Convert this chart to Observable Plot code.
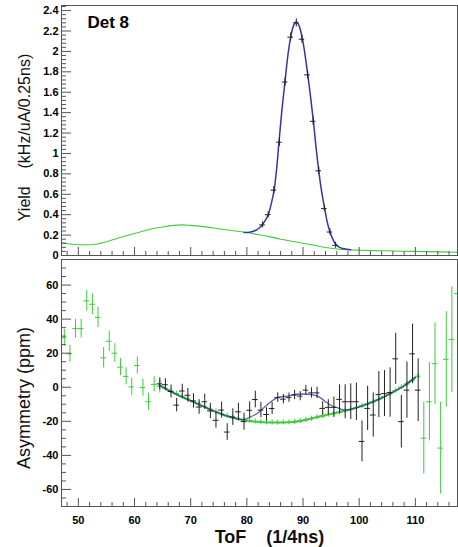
<!DOCTYPE html>
<html><head><meta charset="utf-8">
<script src="https://cdn.jsdelivr.net/npm/d3@7"></script>
<script src="https://cdn.jsdelivr.net/npm/@observablehq/plot@0.6"></script>
<style>
body{margin:0;background:#fff;}
#chart{width:458px;height:547px;}
#chart svg{display:block;}
</style></head><body><div id="chart"></div>
<script>
// ---------- axis ticks ----------
const xDomain = [47, 117.5];
const xMajor = [50, 60, 70, 80, 90, 100, 110];
const xMinor = [48,52,54,56,58,62,64,66,68,72,74,76,78,82,84,86,88,92,94,96,98,102,104,106,108,112,114,116];
const yieldMajor = [0, 0.2, 0.4, 0.6, 0.8, 1, 1.2, 1.4, 1.6, 1.8, 2, 2.2, 2.4];
const yieldMinor = [0.04,0.08,0.12,0.16,0.24,0.28,0.32,0.36,0.44,0.48,0.52,0.56,0.64,0.68,0.72,0.76,0.84,0.88,0.92,0.96,1.04,1.08,1.12,1.16,1.24,1.28,1.32,1.36,1.44,1.48,1.52,1.56,1.64,1.68,1.72,1.76,1.84,1.88,1.92,1.96,2.04,2.08,2.12,2.16,2.24,2.28,2.32,2.36,2.44];
const asymMajor = [-60, -40, -20, 0, 20, 40, 60];
const asymMinor = [-65,-55,-50,-45,-35,-30,-25,-15,-10,-5,5,10,15,25,30,35,45,50,55,65,70];

// ---------- top panel: yield ----------
const yieldBgX = [47, 49, 51, 53, 55, 57, 59, 61, 63, 65, 67, 68.5, 70, 72, 74, 76, 78, 80, 82, 84, 86, 88, 90, 92, 94, 96, 98, 100, 104, 108, 112, 117.5];
const yieldBgY = [0.125, 0.11, 0.105, 0.11, 0.135, 0.17, 0.2, 0.23, 0.26, 0.28, 0.295, 0.30, 0.295, 0.285, 0.27, 0.255, 0.24, 0.225, 0.205, 0.185, 0.16, 0.14, 0.12, 0.1, 0.078, 0.064, 0.056, 0.052, 0.046, 0.042, 0.038, 0.032];

const yieldFitX = [79.5, 80.5, 81.5, 82.3, 83, 83.8, 84.4, 84.85, 85.3, 85.7, 86.2, 86.8, 87.3, 87.8, 88.3, 88.8, 89.3, 89.9, 90.4, 90.85, 91.35, 91.85, 92.3, 92.8, 93.3, 93.85, 94.3, 94.8, 95.3, 95.8, 96.5, 97.3, 98.5];
const yieldFitY = [0.225, 0.228, 0.245, 0.275, 0.32, 0.40, 0.52, 0.64, 0.85, 1.1, 1.4, 1.71, 1.96, 2.14, 2.25, 2.29, 2.25, 2.12, 1.95, 1.77, 1.55, 1.315, 1.07, 0.83, 0.63, 0.46, 0.33, 0.23, 0.16, 0.11, 0.08, 0.066, 0.057];

const yieldPtX = [82.8, 83.8, 84.8, 85.8, 86.8, 87.8, 88.8, 89.8, 90.8, 91.8, 92.8, 93.8, 94.8, 95.8];
const yieldPtY = [0.30, 0.40, 0.64, 1.11, 1.70, 2.14, 2.28, 2.12, 1.77, 1.315, 0.83, 0.46, 0.23, 0.10];
const yieldPtErr = [0.03, 0.03, 0.035, 0.04, 0.04, 0.04, 0.04, 0.04, 0.04, 0.04, 0.035, 0.03, 0.03, 0.03];

// ---------- bottom panel: asymmetry ----------
const bgX = [47.5,48.5,49.5,50.5,51.5,52.5,53.5,54.5,55.5,56.5,57.5,58.5,59.5,60.5,61.5,62.5,63.5,64.5,
  65.5,66.5,67.5,68.5,69.5,70.5,71.5,72.5,73.5,74.5,75.5,76.5,77.5,78.5,79.5,80.5,81.5,82.5,83.5,84.5,
  85.5,86.5,87.5,88.5,89.5,90.5,91.5,92.5,93.5,94.5,95.5,96.5,97.5,98.5,99.5,100.5,101.5,102.5,103.5,104.5,
  105.5,106.5,107.5,108.5,109.5,110.5,111.5,112.5,113.5,114.5,115.5,116.5,117.5];
const bgY = [29, 19.6, 34.4, 34.4, 50.7, 48.7, 41, 17.3, 27, 20, 11.8, 6.4, 0.2, 12.8, -0.2, -8.5, 1.7, 0.6,
  -0.5, -2.2, -3.8, -5.4, -6.9, -8.4, -9.9, -11.4, -12.8, -14.2, -15.6, -16.8, -17.8, -18.6, -19.2, -19.7, -20.1, -20.4, -20.6, -20.7,
  -20.8, -20.7, -20.6, -20.3, -19.8, -19.2, -18.5, -17.7, -16.9, -16.1, -15.3, -14.6, -13.8, -13.0, -12.0, -11.0, -9.8, -8.5, -7.1, -5.5,
  -3.9, -2.0, 0, 1.9, 4.1, 6.5, -29.9, -8.5, 13.8, -35.7, 16.4, 28, 55];
const bgErr = [5, 5, 5.5, 5.5, 6, 6, 6, 6, 6, 5.5, 5, 5, 5, 5, 5, 5, 4.5, 4,
  1.5, 1.5, 1.5, 1.5, 1.5, 1.5, 1.5, 1.5, 1.5, 1.5, 1.5, 1.5, 1.5, 1.5, 1.5, 1.5, 1.5, 1.5, 1.5, 1.5,
  1.5, 1.5, 1.5, 1.5, 1.5, 1.5, 1.5, 1.5, 1.5, 1.5, 1.5, 1.5, 1.5, 1.5, 1.5, 1.5, 1.5, 1.5, 1.5, 1.5,
  1.5, 1.5, 1.5, 1.5, 1.5, 1.5, 21, 23, 24, 27, 28, 31, 33];

const dataX = [64.5,65.5,66.5,67.5,68.5,69.5,70.5,71.5,72.5,73.5,74.5,75.5,76.5,77.5,78.5,79.5,
  80.5,81.5,82.5,83.5,84.5,85.5,86.5,87.5,88.5,89.5,90.5,91.5,92.5,93.5,94.5,95.5,96.5,97.5,98.5,99.5,
  100.5,101.5,102.5,103.5,104.5,105.5,106.5,107.5,108.5,109.5,110.5];
const dataY = [2, 1.5, -2.5, -10.5, -2.2, -4.7, -8, -11.6, -8.5, -13.9, -19.4, -13.4, -26.3, -17.5, -14.4, -20.2,
  -13.5, -7.2, -13.4, -16, -12.5, -6.1, -7, -6.1, -4.5, -5.2, -1.7, -3.3, -3.3, -12.4, -11.8, -11.8, -7.1, -8.5, -8.5, -8.5,
  -31.8, -12.4, -16.3, -4.3, -3.7, -3.1, 16.7, -20.2, -1.7, 19.6, -1.7];
const dataErr = [3.5, 3.5, 3.8, 3.9, 4, 4, 4.2, 4.3, 4.4, 4.5, 4.6, 4.7, 4.9, 4.9, 5, 5,
  4.9, 4.9, 4.5, 4, 3.5, 2.8, 2.7, 2.7, 2.7, 2.7, 2.8, 3, 3.3, 3.9, 4.5, 6, 8.5, 10, 10.5, 11,
  12, 13, 13, 13.5, 13.5, 14.5, 15, 15.5, 16.5, 17.5, 18.4];

const bgFitX = [64.4, 66, 68, 70, 72, 74, 76, 78, 80, 82, 84, 86, 88, 90, 92, 94, 96, 98, 100, 102, 104, 106, 108, 110];
const bgFitY = [1.2, -1.7, -5.0, -7.9, -10.9, -13.8, -16.4, -18.2, -19.5, -20.3, -20.7, -20.7, -20.4, -19.5, -17.9, -16.4, -15.0, -13.4, -11.5, -9.1, -6.3, -2.9, 0.9, 5.8];
const totFitX = [64.4, 66, 68, 70, 72, 74, 76, 78, 79.5, 80.7, 81.9, 83.1, 84.3, 85.5, 87.2, 89, 90.8, 92.6, 94, 95.2, 96.4, 97.3, 98.5, 100, 102, 104, 106, 108, 110];
const totFitY = [1.2, -1.7, -5.0, -7.9, -10.9, -13.8, -16.4, -18.2, -19.0, -17.3, -15.3, -11.8, -8.5, -6.0, -5.2, -4.1, -4.1, -5.2, -8.5, -11.0, -12.4, -13.4, -13.0, -11.5, -9.1, -6.3, -2.9, 0.9, 5.8];

// ---------- texts ----------
const panelLabel = "Det 8";
const yieldTitle = "Yield\u00a0\u00a0\u00a0\u00a0(kHz/uA/0.25ns)";
const asymTitle = "Asymmetry (ppm)";
const xTitle = "ToF\u00a0\u00a0\u00a0\u00a0(1/4ns)";

const zip = (xs, ys, es) => xs.map((x, i) => ({x, y: ys[i], e: es ? es[i] : 0}));
const yieldBg = zip(yieldBgX, yieldBgY);
const yieldFit = zip(yieldFitX, yieldFitY);
const yieldPts = zip(yieldPtX, yieldPtY, yieldPtErr);
const bgPts = zip(bgX, bgY, bgErr);
const dataPts = zip(dataX, dataY, dataErr);
const bgFit = zip(bgFitX, bgFitY);
const totFit = zip(totFitX, totFitY);

const FONT = "'Liberation Sans', Arial, Helvetica, sans-serif";
const AX = "#555";
const GREEN = "#3ccc3c";
const BLUE = "#3535a8";
const BLACK = "#222";

const blank = () => "";

function crosses(data, color, halfW) {
  return [
    Plot.ruleX(data, {x: "x", y1: d => d.y - d.e, y2: d => d.y + d.e, stroke: color, strokeWidth: 1, clip: true}),
    Plot.ruleY(data, {y: "y", x1: d => d.x - halfW, x2: d => d.x + halfW, stroke: color, strokeWidth: 1, clip: true})
  ];
}

const topPlot = Plot.plot({
  width: 458, height: 258,
  marginLeft: 61, marginRight: 1, marginTop: 5, marginBottom: 3,
  style: {fontFamily: FONT, fontSize: "11px", fontWeight: "bold", color: "#000", background: "#fff", overflow: "visible"},
  x: {domain: xDomain},
  y: {domain: [0, 2.45]},
  marks: [
    Plot.line(yieldBg, {x: "x", y: "y", stroke: GREEN, strokeWidth: 1.1, curve: "catmull-rom", clip: true}),
    Plot.line(yieldFit, {x: "x", y: "y", stroke: BLUE, strokeWidth: 1.5, curve: "catmull-rom", clip: true}),
    ...crosses(yieldPts, BLACK, 0.5),
    Plot.axisY(yieldMinor, {tickSize: -5, tickFormat: blank, stroke: AX, label: null}),
    Plot.axisY(yieldMajor, {tickSize: -10, tickFormat: blank, stroke: AX, label: null}),
    Plot.axisY(yieldMajor, {tickSize: 0, tickPadding: 3, tickFormat: d => `${d}`, label: null}),
    Plot.axisX(xMinor, {tickSize: -4, tickFormat: blank, stroke: AX, label: null}),
    Plot.axisX(xMajor, {tickSize: -8, tickFormat: blank, stroke: AX, label: null}),
    Plot.frame({stroke: AX, strokeWidth: 1}),
    Plot.text([panelLabel], {text: d => d, frameAnchor: "top-left", textAnchor: "start", lineAnchor: "top", dx: 26, dy: 10, fontSize: 17, fontWeight: "bold", fill: "#000"}),
    Plot.text([yieldTitle], {text: d => d, frameAnchor: "left", rotate: -90, textAnchor: "middle", lineAnchor: "middle", dx: -37, dy: 7, fontSize: 16, fontWeight: "normal", fill: "#111"})
  ]
});

const botPlot = Plot.plot({
  width: 458, height: 289,
  marginLeft: 61, marginRight: 1, marginTop: 1, marginBottom: 41,
  style: {fontFamily: FONT, fontSize: "11px", fontWeight: "bold", color: "#000", background: "#fff", overflow: "visible"},
  x: {domain: xDomain},
  y: {domain: [-70, 75]},
  marks: [
    ...crosses(bgPts, GREEN, 0.5),
    Plot.line(bgFit, {x: "x", y: "y", stroke: GREEN, strokeWidth: 2, curve: "catmull-rom", clip: true}),
    Plot.line(totFit, {x: "x", y: "y", stroke: BLUE, strokeWidth: 1.3, strokeOpacity: 0.8, curve: "catmull-rom", clip: true}),
    ...crosses(dataPts, BLACK, 0.5),
    Plot.axisY(asymMinor, {tickSize: -5, tickFormat: blank, stroke: AX, label: null}),
    Plot.axisY(asymMajor, {tickSize: -10, tickFormat: blank, stroke: AX, label: null}),
    Plot.axisY(asymMajor, {tickSize: 0, tickPadding: 3, tickFormat: d => `${d}`, label: null}),
    Plot.axisX(xMinor, {tickSize: -4, tickFormat: blank, stroke: AX, label: null}),
    Plot.axisX(xMajor, {tickSize: -8, tickFormat: blank, stroke: AX, label: null}),
    Plot.axisX(xMajor, {tickSize: 0, tickPadding: 10, tickFormat: d => `${d}`, label: null}),
    Plot.frame({stroke: AX, strokeWidth: 1}),
    Plot.text([asymTitle], {text: d => d, frameAnchor: "left", rotate: -90, textAnchor: "middle", lineAnchor: "middle", dx: -37, dy: 15, fontSize: 18, fontWeight: "normal", fill: "#111"}),
    Plot.text([xTitle], {text: d => d, frameAnchor: "bottom", textAnchor: "middle", lineAnchor: "top", dx: 10, dy: 23.5, fontSize: 18, fontWeight: "bold", fill: "#111"})
  ]
});

const chart = document.getElementById("chart");
chart.appendChild(topPlot);
chart.appendChild(botPlot);
</script>
</body></html>
